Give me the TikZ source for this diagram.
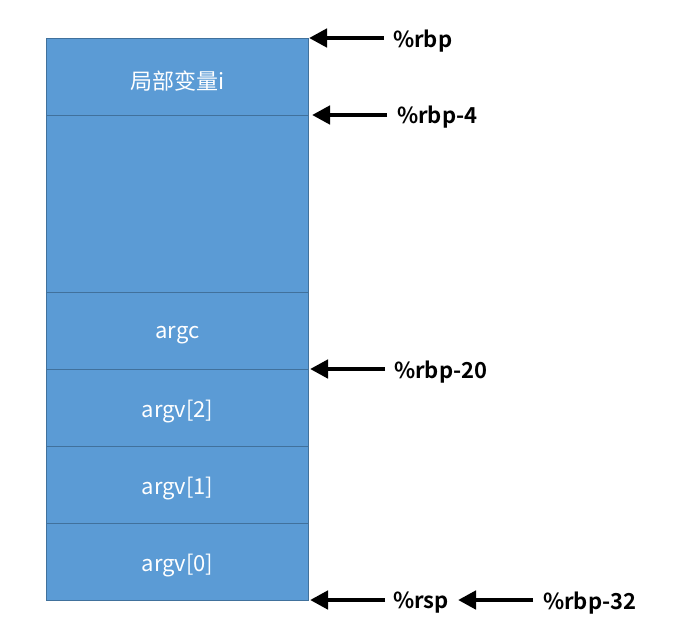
\documentclass[tikz,border=0pt]{standalone}
\usepackage{fontspec}
\setmainfont{Noto Sans CJK SC}
\newfontfamily\cjkbold{Noto Sans CJK SC Bold}
\usetikzlibrary{arrows.meta}
\definecolor{cellfill}{HTML}{5B9BD5}
\definecolor{celldraw}{HTML}{41719C}
\newcommand{\celltext}[1]{\raisebox{-4pt}[\height][\depth]{#1}}
\tikzset{
  cell/.style={draw=celldraw, fill=cellfill, line width=0.8pt, minimum width=262pt, anchor=north west, inner sep=0pt, text=white, font=\fontsize{22}{24}\selectfont},
  ptr/.style={line width=4.5pt, -{Triangle[length=18pt,width=18pt]}},
  lbl/.style={anchor=west, inner sep=0pt, font=\cjkbold\fontsize{22}{24}\selectfont}
}
\begin{document}
\begin{tikzpicture}[x=1pt,y=-1pt]
\useasboundingbox (0,0) rectangle (679,643);
\node[cell, minimum height=77pt] (c1) at (46,38) {\celltext{局部变量i}};
\node[cell, minimum height=177pt] (c2) at (46,115) {};
\node[cell, minimum height=77pt] (c3) at (46,292) {\celltext{argc}};
\node[cell, minimum height=77pt] (c4) at (46,369) {\celltext{argv[2]}};
\node[cell, minimum height=77pt] (c5) at (46,446) {\celltext{argv[1]}};
\node[cell, minimum height=77pt] (c6) at (46,523) {\celltext{argv[0]}};
\node[lbl] (l1) at (393,41) {\%rbp};
\node[lbl] (l2) at (397,117) {\%rbp-4};
\node[lbl] (l3) at (394,372) {\%rbp-20};
\node[lbl] (l4) at (393,603) {\%rsp};
\node[lbl] (l5) at (543,603) {\%rbp-32};
\coordinate (p1) at (309,38);
\coordinate (p2) at (312,115);
\coordinate (p3) at (310,369);
\coordinate (p4) at (310,600);
\coordinate (p5) at (458,600);
\draw[ptr] (l1.west) ++(-9,-3) -- (p1);
\draw[ptr] (l2.west) ++(-10,-2) -- (p2);
\draw[ptr] (l3.west) ++(-9,-3) -- (p3);
\draw[ptr] (l4.west) ++(-8,-3) -- (p4);
\draw[ptr] (l5.west) ++(-10,-3) -- (p5);
\end{tikzpicture}
\end{document}
